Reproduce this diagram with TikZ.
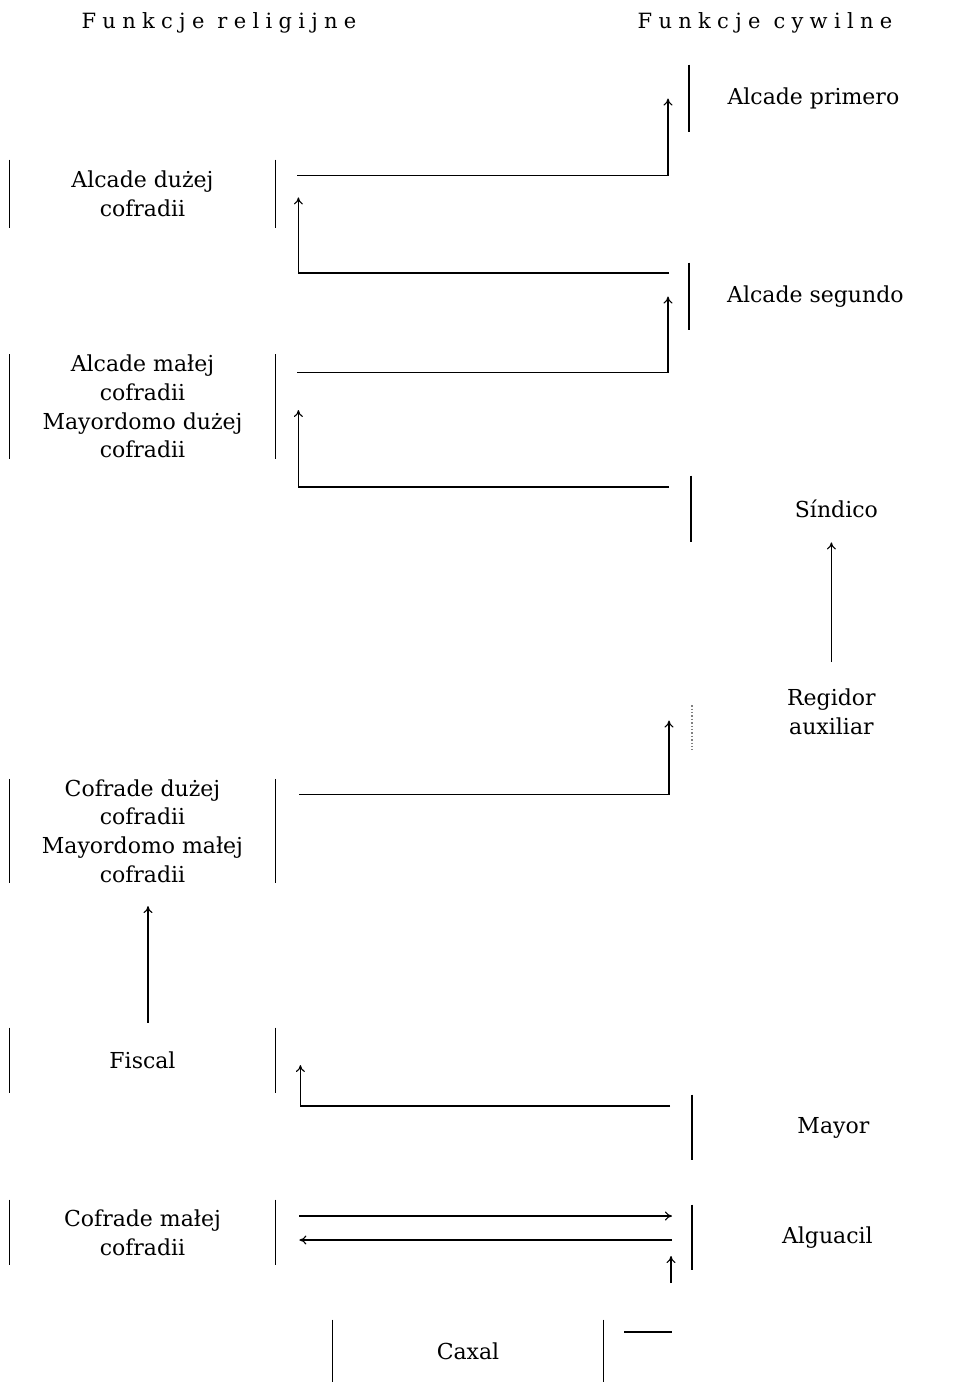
\documentclass[tikz,border=0pt]{standalone}
\usepackage{fontspec}
\setmainfont{DejaVu Serif}
\newfontfamily\spacedfont[LetterSpace=30]{DejaVu Serif}
\usepackage{tikz}
\usetikzlibrary{arrows.meta}

\begin{document}
\begin{tikzpicture}[x=0.5pt,y=-0.5pt,
    font=\fontsize{11}{14.4}\selectfont,
    post/.style={minimum height=#1,inner sep=0pt,align=center},
    lpost/.style={post=#1,minimum width=132.5pt},
    rpost/.style={post=#1,anchor=west},
    head/.style={font=\spacedfont\fontsize{10.5}{12}\selectfont},
    bar/.style={line width=0.7pt},
    link/.style={line width=0.55pt,-{To[length=3.5pt,width=4.5pt]}},
    plain/.style={line width=0.55pt}]
  \useasboundingbox (0,0) rectangle (960,1382);
  % column headings
  \node[head] (hrel) at (219,23) {Funkcje religijne};
  \node[head] (hciv) at (765,23) {Funkcje cywilne};
  % religious posts
  \node[lpost=34pt] (adc) at (142.5,194) {Alcade dużej\\cofradii};
  \node[lpost=51.5pt] (amc) at (142.5,406.5) {Alcade małej\\cofradii\\Mayordomo dużej\\cofradii};
  \node[lpost=51pt] (cdc) at (142.5,831) {Cofrade dużej\\cofradii\\Mayordomo małej\\cofradii};
  \node[lpost=32.5pt] (fis) at (142.5,1060.5) {Fiscal};
  \node[lpost=32.5pt] (cmc) at (142.5,1232.5) {Cofrade małej\\cofradii};
  \node[post=31pt,minimum width=135pt] (cax) at (468,1351) {Caxal};
  % civil posts
  \node[rpost=33.5pt,minimum width=124pt] (ap) at (689,98.5) {Alcade primero};
  \node[rpost=33.5pt,minimum width=126pt] (as) at (689,296.5) {Alcade segundo};
  \node[rpost=33pt,minimum width=145pt] (sin) at (691,509) {Síndico};
  \node[rpost=30pt,minimum width=139pt] (reg) at (692,711.5) {Regidor\\auxiliar};
  \node[rpost=32.5pt,minimum width=141pt] (may) at (692,1127.5) {Mayor};
  \node[rpost=32.5pt,minimum width=135pt] (alg) at (692,1237.5) {Alguacil};
  % bars
  \foreach \n in {adc,amc,cdc,fis,cmc,cax}
    \draw[bar] (\n.north west) -- (\n.south west) (\n.north east) -- (\n.south east);
  \foreach \n in {ap,as,sin,may,alg}
    \draw[bar] (\n.north west) -- (\n.south west);
  \draw[bar,densely dotted,gray] ([yshift=-12pt]reg.north west) -- ([yshift=-4.25pt]reg.south west);
  % career steps
  \draw[link] ([xshift=11pt,yshift=-8pt]adc.north east) -| ([xshift=-10.5pt]ap.west);
  \draw[link] ([xshift=-10pt,yshift=11.75pt]as.west) -| ([xshift=11.5pt,yshift=15.5pt]adc.south east);
  \draw[link] ([xshift=11pt,yshift=-9pt]amc.north east) -| ([xshift=-10.5pt]as.west);
  \draw[link] ([xshift=-11pt,yshift=11pt]sin.west) -| ([xshift=11.5pt,yshift=-1.75pt]amc.east);
  \draw[link] ([yshift=9.5pt]reg.north) -- (reg.north |- sin.south);
  \draw[link] ([xshift=12pt,yshift=-8pt]cdc.north east) -| ([xshift=-11.5pt,yshift=-4.5pt]reg.west);
  \draw[link] ([xshift=2.75pt,yshift=2.5pt]fis.north) -- ([xshift=2.75pt,yshift=-11.5pt]cdc.south);
  \draw[link] ([xshift=-11pt,yshift=10.75pt]may.west) -| ([xshift=12.5pt,yshift=-2.25pt]fis.east);
  \draw[link] ([xshift=12pt,yshift=8.25pt]cmc.east) -- ([xshift=-10pt,yshift=10.75pt]alg.west);
  \draw[link] ([xshift=-10pt,yshift=-1.25pt]alg.west) -- ([xshift=12pt,yshift=-3.75pt]cmc.east);
  % Caxal to Alguacil (line broken in the print)
  \coordinate (cstub) at (672,1332);
  \coordinate (cgap) at (671,1283);
  \draw[plain] ([xshift=10.5pt,yshift=9.5pt]cax.east) -- (cstub);
  \draw[link] (cgap) -- ([xshift=-10.5pt,yshift=-9.25pt]alg.west);
\end{tikzpicture}
\end{document}
